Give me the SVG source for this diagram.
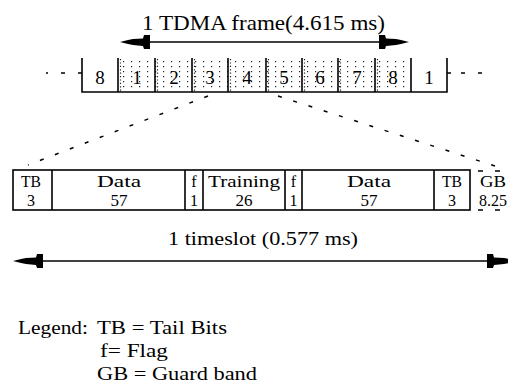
<svg xmlns="http://www.w3.org/2000/svg" xmlns:xlink="http://www.w3.org/1999/xlink" width="508" height="387" viewBox="0 0 508 387">
<style>
text{font-family:"Liberation Serif","Times New Roman",serif;fill:#000;}
.t{font-size:21px;}
.d{font-size:19px;text-anchor:middle;}
.c{font-size:16px;text-anchor:middle;}
.l{font-size:18px;}
.ln{stroke:#000;stroke-width:1.6;fill:none;}
.dash{stroke:#000;stroke-width:1.5;fill:none;stroke-dasharray:4 12;}
</style>
<defs>
<pattern id="dots" patternUnits="userSpaceOnUse" x="0" y="0" width="8" height="5">
<rect x="3" y="1" width="1.2" height="1.2" fill="#222"/>
</pattern>
<path id="ah" d="M0,0 L8,-2 L13,-3 L23,-3.5 L24,-7 L30,-7 L30,7 L24,7 L23,4 L13,3 L8,2 Z" fill="#000"/>
</defs>

<g id="frame-label">
<text class="t" x="142" y="30" textLength="243" lengthAdjust="spacingAndGlyphs">1 TDMA frame(4.615 ms)</text>
</g>

<g id="frame-arrow">
<line class="ln" x1="145" y1="42" x2="385" y2="42"/>
<use xlink:href="#ah" transform="translate(120,42)"/>
<use xlink:href="#ah" transform="translate(409,42) scale(-1,1)"/>
</g>

<g id="frame">
<rect x="118" y="58" width="293" height="33" fill="url(#dots)"/>
<path class="ln" d="M82,58 V92 H447 V58 M118,58 V92 M155,58 V92 M192,58 V92 M228,58 V92 M266,58 V92 M302,58 V92 M338,58 V92 M375,58 V92 M411,58 V92"/>
<path d="M120.5,59 V91 M157.5,59 V91 M194.5,59 V91 M230.5,59 V91 M268.5,59 V91 M304.5,59 V91 M340.5,59 V91 M377.5,59 V91" stroke="#222" stroke-width="1.2" stroke-dasharray="1.2 2.2" fill="none"/>
<path class="ln" d="M78,73 H82 M447,73 H451"/>
<path class="ln" d="M46,73 H48 M61,73 H65 M461,73 H465 M478,73 H482"/>
<text class="d" x="100" y="84">8</text>
<text class="d" x="137" y="84">1</text>
<text class="d" x="174" y="84">2</text>
<text class="d" x="210" y="84">3</text>
<text class="d" x="247" y="84">4</text>
<text class="d" x="284" y="84">5</text>
<text class="d" x="320" y="84">6</text>
<text class="d" x="357" y="84">7</text>
<text class="d" x="393" y="84">8</text>
<text class="d" x="429" y="84">1</text>
</g>

<g id="connectors">
<line class="dash" x1="208" y1="96" x2="28" y2="165"/>
<line class="dash" x1="278" y1="96" x2="498" y2="167"/>
</g>

<g id="timeslot">
<rect class="ln" x="13" y="170" width="457" height="40"/>
<path class="ln" d="M52,170 V210 M185,170 V210 M203,170 V210 M285,170 V210 M302,170 V210 M434,170 V210"/>
<path d="M478,171 H510 M478,210 H510" stroke="#000" stroke-width="1.5" stroke-dasharray="5 12" fill="none"/>
<text class="c" x="31" y="187" textLength="20" lengthAdjust="spacingAndGlyphs">TB</text>
<text class="c" x="31" y="206">3</text>
<text class="c" x="119" y="187" textLength="44" lengthAdjust="spacingAndGlyphs">Data</text>
<text class="c" x="119" y="206" textLength="17" lengthAdjust="spacingAndGlyphs">57</text>
<text class="c" x="194" y="187">f</text>
<text class="c" x="194" y="206">1</text>
<text class="c" x="244" y="187" textLength="72" lengthAdjust="spacingAndGlyphs">Training</text>
<text class="c" x="244" y="206" textLength="17" lengthAdjust="spacingAndGlyphs">26</text>
<text class="c" x="293.5" y="187">f</text>
<text class="c" x="293.5" y="206">1</text>
<text class="c" x="369" y="187" textLength="44" lengthAdjust="spacingAndGlyphs">Data</text>
<text class="c" x="369" y="206" textLength="17" lengthAdjust="spacingAndGlyphs">57</text>
<text class="c" x="452" y="187" textLength="20" lengthAdjust="spacingAndGlyphs">TB</text>
<text class="c" x="452" y="206">3</text>
<text class="c" x="493" y="187" textLength="26" lengthAdjust="spacingAndGlyphs">GB</text>
<text class="c" x="493" y="206">8.25</text>
</g>

<g id="timeslot-label">
<text class="l" x="168" y="245" textLength="190" lengthAdjust="spacingAndGlyphs">1 timeslot (0.577 ms)</text>
</g>

<g id="timeslot-arrow">
<line class="ln" x1="38" y1="261" x2="492" y2="261"/>
<use xlink:href="#ah" transform="translate(13,261)"/>
<use xlink:href="#ah" transform="translate(517,261) scale(-1,1)"/>
</g>

<g id="legend">
<text class="l" x="18" y="334" textLength="70" lengthAdjust="spacingAndGlyphs">Legend:</text>
<text class="l" x="97" y="334" textLength="130" lengthAdjust="spacingAndGlyphs">TB = Tail Bits</text>
<text class="l" x="100" y="357" textLength="68" lengthAdjust="spacingAndGlyphs">f= Flag</text>
<text class="l" x="97" y="380" textLength="160" lengthAdjust="spacingAndGlyphs">GB = Guard band</text>
</g>
</svg>
